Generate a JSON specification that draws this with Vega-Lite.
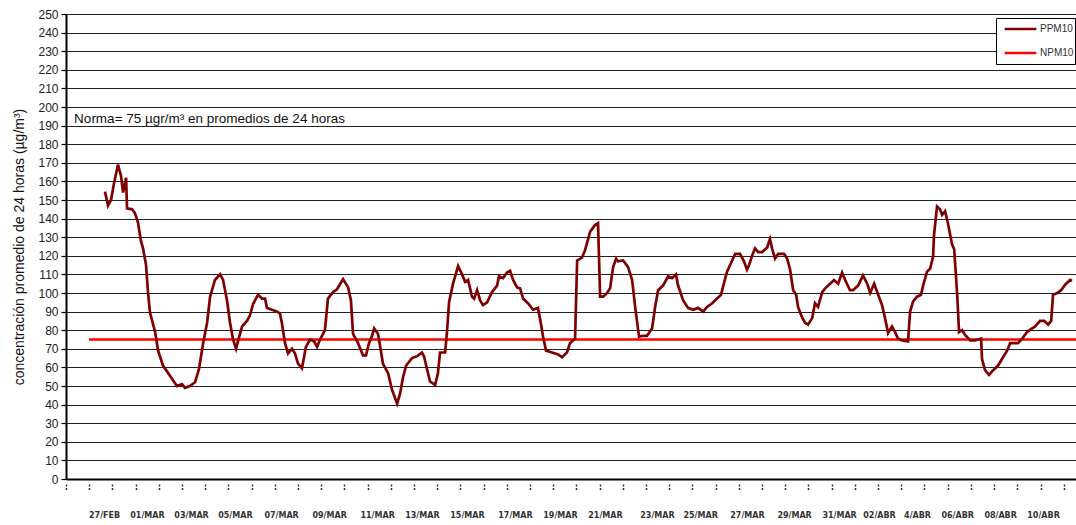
{
  "$schema": "https://vega.github.io/schema/vega-lite/v6.json",
  "width": 1010,
  "height": 465,
  "autosize": {"type": "none"},
  "padding": {"left": 66, "top": 14, "right": 0, "bottom": 46},
  "background": "white",
  "config": {
    "font": "Liberation Sans",
    "view": {"stroke": null}
  },
  "datasets": {
    "series": [
      {"serie": "NPM10", "dia": 0.99, "valor": 75},
      {"serie": "NPM10", "dia": 43.53, "valor": 75},
      {"serie": "PPM10", "dia": 1.68, "valor": 154.5},
      {"serie": "PPM10", "dia": 1.81, "valor": 147},
      {"serie": "PPM10", "dia": 1.94, "valor": 150},
      {"serie": "PPM10", "dia": 2.07, "valor": 159},
      {"serie": "PPM10", "dia": 2.24, "valor": 169},
      {"serie": "PPM10", "dia": 2.37, "valor": 163},
      {"serie": "PPM10", "dia": 2.46, "valor": 154},
      {"serie": "PPM10", "dia": 2.59, "valor": 162},
      {"serie": "PPM10", "dia": 2.63, "valor": 145.5},
      {"serie": "PPM10", "dia": 2.85, "valor": 145},
      {"serie": "PPM10", "dia": 2.97, "valor": 143},
      {"serie": "PPM10", "dia": 3.10, "valor": 138},
      {"serie": "PPM10", "dia": 3.23, "valor": 128},
      {"serie": "PPM10", "dia": 3.32, "valor": 124},
      {"serie": "PPM10", "dia": 3.45, "valor": 115},
      {"serie": "PPM10", "dia": 3.53, "valor": 101},
      {"serie": "PPM10", "dia": 3.62, "valor": 89.5},
      {"serie": "PPM10", "dia": 3.84, "valor": 79},
      {"serie": "PPM10", "dia": 3.97, "valor": 69},
      {"serie": "PPM10", "dia": 4.18, "valor": 61},
      {"serie": "PPM10", "dia": 4.48, "valor": 55.5},
      {"serie": "PPM10", "dia": 4.78, "valor": 50},
      {"serie": "PPM10", "dia": 5.00, "valor": 51},
      {"serie": "PPM10", "dia": 5.13, "valor": 49},
      {"serie": "PPM10", "dia": 5.34, "valor": 50},
      {"serie": "PPM10", "dia": 5.56, "valor": 52},
      {"serie": "PPM10", "dia": 5.73, "valor": 59},
      {"serie": "PPM10", "dia": 5.91, "valor": 73},
      {"serie": "PPM10", "dia": 6.08, "valor": 84},
      {"serie": "PPM10", "dia": 6.21, "valor": 98},
      {"serie": "PPM10", "dia": 6.42, "valor": 107},
      {"serie": "PPM10", "dia": 6.64, "valor": 110},
      {"serie": "PPM10", "dia": 6.77, "valor": 107},
      {"serie": "PPM10", "dia": 6.94, "valor": 96},
      {"serie": "PPM10", "dia": 7.07, "valor": 84},
      {"serie": "PPM10", "dia": 7.20, "valor": 75},
      {"serie": "PPM10", "dia": 7.33, "valor": 70},
      {"serie": "PPM10", "dia": 7.41, "valor": 74},
      {"serie": "PPM10", "dia": 7.59, "valor": 82},
      {"serie": "PPM10", "dia": 7.80, "valor": 85},
      {"serie": "PPM10", "dia": 7.93, "valor": 88},
      {"serie": "PPM10", "dia": 8.06, "valor": 94},
      {"serie": "PPM10", "dia": 8.23, "valor": 98},
      {"serie": "PPM10", "dia": 8.28, "valor": 99},
      {"serie": "PPM10", "dia": 8.45, "valor": 97},
      {"serie": "PPM10", "dia": 8.58, "valor": 97},
      {"serie": "PPM10", "dia": 8.66, "valor": 92},
      {"serie": "PPM10", "dia": 8.88, "valor": 91},
      {"serie": "PPM10", "dia": 9.10, "valor": 90},
      {"serie": "PPM10", "dia": 9.22, "valor": 89},
      {"serie": "PPM10", "dia": 9.31, "valor": 83.5},
      {"serie": "PPM10", "dia": 9.44, "valor": 73},
      {"serie": "PPM10", "dia": 9.57, "valor": 67.5},
      {"serie": "PPM10", "dia": 9.74, "valor": 70},
      {"serie": "PPM10", "dia": 9.87, "valor": 67.5},
      {"serie": "PPM10", "dia": 10.00, "valor": 62},
      {"serie": "PPM10", "dia": 10.17, "valor": 59.5},
      {"serie": "PPM10", "dia": 10.34, "valor": 71},
      {"serie": "PPM10", "dia": 10.52, "valor": 75},
      {"serie": "PPM10", "dia": 10.69, "valor": 74},
      {"serie": "PPM10", "dia": 10.82, "valor": 71},
      {"serie": "PPM10", "dia": 10.95, "valor": 75},
      {"serie": "PPM10", "dia": 11.16, "valor": 80},
      {"serie": "PPM10", "dia": 11.29, "valor": 97},
      {"serie": "PPM10", "dia": 11.51, "valor": 100.5},
      {"serie": "PPM10", "dia": 11.68, "valor": 102},
      {"serie": "PPM10", "dia": 11.94, "valor": 107.5},
      {"serie": "PPM10", "dia": 12.16, "valor": 103},
      {"serie": "PPM10", "dia": 12.28, "valor": 96},
      {"serie": "PPM10", "dia": 12.37, "valor": 78},
      {"serie": "PPM10", "dia": 12.46, "valor": 76},
      {"serie": "PPM10", "dia": 12.59, "valor": 73},
      {"serie": "PPM10", "dia": 12.80, "valor": 66.5},
      {"serie": "PPM10", "dia": 12.93, "valor": 66.5},
      {"serie": "PPM10", "dia": 13.06, "valor": 73},
      {"serie": "PPM10", "dia": 13.19, "valor": 77},
      {"serie": "PPM10", "dia": 13.28, "valor": 81},
      {"serie": "PPM10", "dia": 13.45, "valor": 78},
      {"serie": "PPM10", "dia": 13.53, "valor": 72},
      {"serie": "PPM10", "dia": 13.66, "valor": 62},
      {"serie": "PPM10", "dia": 13.88, "valor": 57},
      {"serie": "PPM10", "dia": 14.05, "valor": 48},
      {"serie": "PPM10", "dia": 14.27, "valor": 40.5},
      {"serie": "PPM10", "dia": 14.40, "valor": 46},
      {"serie": "PPM10", "dia": 14.53, "valor": 55},
      {"serie": "PPM10", "dia": 14.66, "valor": 61},
      {"serie": "PPM10", "dia": 14.91, "valor": 65},
      {"serie": "PPM10", "dia": 15.13, "valor": 66},
      {"serie": "PPM10", "dia": 15.34, "valor": 68},
      {"serie": "PPM10", "dia": 15.43, "valor": 66},
      {"serie": "PPM10", "dia": 15.56, "valor": 59},
      {"serie": "PPM10", "dia": 15.69, "valor": 52.5},
      {"serie": "PPM10", "dia": 15.91, "valor": 50.5},
      {"serie": "PPM10", "dia": 16.03, "valor": 57},
      {"serie": "PPM10", "dia": 16.12, "valor": 68},
      {"serie": "PPM10", "dia": 16.34, "valor": 68},
      {"serie": "PPM10", "dia": 16.42, "valor": 79},
      {"serie": "PPM10", "dia": 16.51, "valor": 95},
      {"serie": "PPM10", "dia": 16.68, "valor": 105},
      {"serie": "PPM10", "dia": 16.90, "valor": 114.5},
      {"serie": "PPM10", "dia": 17.07, "valor": 110},
      {"serie": "PPM10", "dia": 17.20, "valor": 106},
      {"serie": "PPM10", "dia": 17.33, "valor": 107},
      {"serie": "PPM10", "dia": 17.50, "valor": 98},
      {"serie": "PPM10", "dia": 17.59, "valor": 97},
      {"serie": "PPM10", "dia": 17.72, "valor": 101.5},
      {"serie": "PPM10", "dia": 17.85, "valor": 96},
      {"serie": "PPM10", "dia": 17.97, "valor": 93.5},
      {"serie": "PPM10", "dia": 18.15, "valor": 95},
      {"serie": "PPM10", "dia": 18.36, "valor": 100.5},
      {"serie": "PPM10", "dia": 18.58, "valor": 104},
      {"serie": "PPM10", "dia": 18.66, "valor": 109},
      {"serie": "PPM10", "dia": 18.84, "valor": 108},
      {"serie": "PPM10", "dia": 19.01, "valor": 111},
      {"serie": "PPM10", "dia": 19.14, "valor": 112},
      {"serie": "PPM10", "dia": 19.27, "valor": 107},
      {"serie": "PPM10", "dia": 19.44, "valor": 103},
      {"serie": "PPM10", "dia": 19.57, "valor": 102.5},
      {"serie": "PPM10", "dia": 19.70, "valor": 97},
      {"serie": "PPM10", "dia": 19.91, "valor": 94.5},
      {"serie": "PPM10", "dia": 20.13, "valor": 91},
      {"serie": "PPM10", "dia": 20.34, "valor": 92},
      {"serie": "PPM10", "dia": 20.47, "valor": 83.5},
      {"serie": "PPM10", "dia": 20.56, "valor": 76.5},
      {"serie": "PPM10", "dia": 20.69, "valor": 69},
      {"serie": "PPM10", "dia": 20.95, "valor": 68},
      {"serie": "PPM10", "dia": 21.21, "valor": 67},
      {"serie": "PPM10", "dia": 21.38, "valor": 65.5},
      {"serie": "PPM10", "dia": 21.59, "valor": 68},
      {"serie": "PPM10", "dia": 21.72, "valor": 73},
      {"serie": "PPM10", "dia": 21.94, "valor": 75.5},
      {"serie": "PPM10", "dia": 22.03, "valor": 117.5},
      {"serie": "PPM10", "dia": 22.24, "valor": 119},
      {"serie": "PPM10", "dia": 22.37, "valor": 123},
      {"serie": "PPM10", "dia": 22.59, "valor": 133},
      {"serie": "PPM10", "dia": 22.80, "valor": 136.5},
      {"serie": "PPM10", "dia": 22.93, "valor": 137.5},
      {"serie": "PPM10", "dia": 23.02, "valor": 98},
      {"serie": "PPM10", "dia": 23.15, "valor": 98},
      {"serie": "PPM10", "dia": 23.32, "valor": 100},
      {"serie": "PPM10", "dia": 23.45, "valor": 102.5},
      {"serie": "PPM10", "dia": 23.58, "valor": 114},
      {"serie": "PPM10", "dia": 23.71, "valor": 118.5},
      {"serie": "PPM10", "dia": 23.79, "valor": 117},
      {"serie": "PPM10", "dia": 24.01, "valor": 117.5},
      {"serie": "PPM10", "dia": 24.22, "valor": 114},
      {"serie": "PPM10", "dia": 24.40, "valor": 107},
      {"serie": "PPM10", "dia": 24.53, "valor": 92.5},
      {"serie": "PPM10", "dia": 24.66, "valor": 80},
      {"serie": "PPM10", "dia": 24.70, "valor": 76.5},
      {"serie": "PPM10", "dia": 24.87, "valor": 77},
      {"serie": "PPM10", "dia": 25.04, "valor": 77},
      {"serie": "PPM10", "dia": 25.26, "valor": 81},
      {"serie": "PPM10", "dia": 25.39, "valor": 92.5},
      {"serie": "PPM10", "dia": 25.52, "valor": 101.5},
      {"serie": "PPM10", "dia": 25.73, "valor": 104},
      {"serie": "PPM10", "dia": 25.95, "valor": 109},
      {"serie": "PPM10", "dia": 26.12, "valor": 108},
      {"serie": "PPM10", "dia": 26.29, "valor": 110},
      {"serie": "PPM10", "dia": 26.38, "valor": 104},
      {"serie": "PPM10", "dia": 26.60, "valor": 96},
      {"serie": "PPM10", "dia": 26.81, "valor": 92},
      {"serie": "PPM10", "dia": 27.03, "valor": 91},
      {"serie": "PPM10", "dia": 27.24, "valor": 92},
      {"serie": "PPM10", "dia": 27.46, "valor": 90},
      {"serie": "PPM10", "dia": 27.63, "valor": 92.5},
      {"serie": "PPM10", "dia": 27.85, "valor": 94.5},
      {"serie": "PPM10", "dia": 28.06, "valor": 97},
      {"serie": "PPM10", "dia": 28.23, "valor": 99},
      {"serie": "PPM10", "dia": 28.32, "valor": 103.5},
      {"serie": "PPM10", "dia": 28.49, "valor": 111.5},
      {"serie": "PPM10", "dia": 28.71, "valor": 117.5},
      {"serie": "PPM10", "dia": 28.84, "valor": 121},
      {"serie": "PPM10", "dia": 29.05, "valor": 121},
      {"serie": "PPM10", "dia": 29.22, "valor": 117},
      {"serie": "PPM10", "dia": 29.35, "valor": 112.5},
      {"serie": "PPM10", "dia": 29.44, "valor": 115},
      {"serie": "PPM10", "dia": 29.57, "valor": 120},
      {"serie": "PPM10", "dia": 29.70, "valor": 124},
      {"serie": "PPM10", "dia": 29.83, "valor": 122},
      {"serie": "PPM10", "dia": 30.00, "valor": 122},
      {"serie": "PPM10", "dia": 30.22, "valor": 124.5},
      {"serie": "PPM10", "dia": 30.34, "valor": 129},
      {"serie": "PPM10", "dia": 30.43, "valor": 124},
      {"serie": "PPM10", "dia": 30.56, "valor": 118.5},
      {"serie": "PPM10", "dia": 30.69, "valor": 121},
      {"serie": "PPM10", "dia": 30.86, "valor": 121},
      {"serie": "PPM10", "dia": 30.95, "valor": 121},
      {"serie": "PPM10", "dia": 31.08, "valor": 118.5},
      {"serie": "PPM10", "dia": 31.21, "valor": 112.5},
      {"serie": "PPM10", "dia": 31.34, "valor": 101.5},
      {"serie": "PPM10", "dia": 31.47, "valor": 99},
      {"serie": "PPM10", "dia": 31.55, "valor": 92.5},
      {"serie": "PPM10", "dia": 31.72, "valor": 87},
      {"serie": "PPM10", "dia": 31.85, "valor": 84},
      {"serie": "PPM10", "dia": 31.98, "valor": 83},
      {"serie": "PPM10", "dia": 32.16, "valor": 86.5},
      {"serie": "PPM10", "dia": 32.28, "valor": 94.5},
      {"serie": "PPM10", "dia": 32.41, "valor": 92.5},
      {"serie": "PPM10", "dia": 32.59, "valor": 100.5},
      {"serie": "PPM10", "dia": 32.72, "valor": 102.5},
      {"serie": "PPM10", "dia": 32.93, "valor": 105},
      {"serie": "PPM10", "dia": 33.10, "valor": 107},
      {"serie": "PPM10", "dia": 33.28, "valor": 105},
      {"serie": "PPM10", "dia": 33.45, "valor": 111},
      {"serie": "PPM10", "dia": 33.58, "valor": 107},
      {"serie": "PPM10", "dia": 33.79, "valor": 101.5},
      {"serie": "PPM10", "dia": 33.92, "valor": 101.5},
      {"serie": "PPM10", "dia": 34.14, "valor": 104},
      {"serie": "PPM10", "dia": 34.35, "valor": 109.5},
      {"serie": "PPM10", "dia": 34.53, "valor": 105},
      {"serie": "PPM10", "dia": 34.66, "valor": 100},
      {"serie": "PPM10", "dia": 34.83, "valor": 105},
      {"serie": "PPM10", "dia": 34.96, "valor": 100.5},
      {"serie": "PPM10", "dia": 35.17, "valor": 93.5},
      {"serie": "PPM10", "dia": 35.30, "valor": 86.5},
      {"serie": "PPM10", "dia": 35.43, "valor": 78.5},
      {"serie": "PPM10", "dia": 35.60, "valor": 82},
      {"serie": "PPM10", "dia": 35.73, "valor": 79},
      {"serie": "PPM10", "dia": 35.86, "valor": 75.5},
      {"serie": "PPM10", "dia": 36.03, "valor": 74.5},
      {"serie": "PPM10", "dia": 36.29, "valor": 74},
      {"serie": "PPM10", "dia": 36.38, "valor": 90},
      {"serie": "PPM10", "dia": 36.51, "valor": 95.5},
      {"serie": "PPM10", "dia": 36.68, "valor": 98},
      {"serie": "PPM10", "dia": 36.85, "valor": 99},
      {"serie": "PPM10", "dia": 36.94, "valor": 104},
      {"serie": "PPM10", "dia": 37.11, "valor": 111.5},
      {"serie": "PPM10", "dia": 37.24, "valor": 113},
      {"serie": "PPM10", "dia": 37.37, "valor": 119.5},
      {"serie": "PPM10", "dia": 37.41, "valor": 131},
      {"serie": "PPM10", "dia": 37.54, "valor": 146.5},
      {"serie": "PPM10", "dia": 37.67, "valor": 145},
      {"serie": "PPM10", "dia": 37.76, "valor": 142},
      {"serie": "PPM10", "dia": 37.89, "valor": 144},
      {"serie": "PPM10", "dia": 38.02, "valor": 137},
      {"serie": "PPM10", "dia": 38.19, "valor": 126},
      {"serie": "PPM10", "dia": 38.28, "valor": 123.5},
      {"serie": "PPM10", "dia": 38.41, "valor": 99},
      {"serie": "PPM10", "dia": 38.49, "valor": 79},
      {"serie": "PPM10", "dia": 38.62, "valor": 80},
      {"serie": "PPM10", "dia": 38.75, "valor": 77.5},
      {"serie": "PPM10", "dia": 38.97, "valor": 74.5},
      {"serie": "PPM10", "dia": 39.18, "valor": 74.5},
      {"serie": "PPM10", "dia": 39.44, "valor": 75.5},
      {"serie": "PPM10", "dia": 39.48, "valor": 64.5},
      {"serie": "PPM10", "dia": 39.61, "valor": 58.5},
      {"serie": "PPM10", "dia": 39.78, "valor": 56},
      {"serie": "PPM10", "dia": 39.96, "valor": 58.5},
      {"serie": "PPM10", "dia": 40.17, "valor": 61},
      {"serie": "PPM10", "dia": 40.34, "valor": 64.5},
      {"serie": "PPM10", "dia": 40.56, "valor": 69},
      {"serie": "PPM10", "dia": 40.69, "valor": 73},
      {"serie": "PPM10", "dia": 40.82, "valor": 73},
      {"serie": "PPM10", "dia": 41.03, "valor": 73},
      {"serie": "PPM10", "dia": 41.21, "valor": 75.5},
      {"serie": "PPM10", "dia": 41.42, "valor": 79},
      {"serie": "PPM10", "dia": 41.64, "valor": 81},
      {"serie": "PPM10", "dia": 41.77, "valor": 82},
      {"serie": "PPM10", "dia": 41.98, "valor": 85},
      {"serie": "PPM10", "dia": 42.16, "valor": 85},
      {"serie": "PPM10", "dia": 42.33, "valor": 83},
      {"serie": "PPM10", "dia": 42.46, "valor": 85},
      {"serie": "PPM10", "dia": 42.54, "valor": 99},
      {"serie": "PPM10", "dia": 42.72, "valor": 100},
      {"serie": "PPM10", "dia": 42.89, "valor": 101.5},
      {"serie": "PPM10", "dia": 43.06, "valor": 104.5},
      {"serie": "PPM10", "dia": 43.28, "valor": 107},
      {"serie": "PPM10", "dia": 43.36, "valor": 106.5}
    ],
    "nota": [
      {"dia": 0.35, "valor": 193.5, "texto": "Norma= 75 µgr/m³ en promedios de 24 horas"}
    ]
  },
  "resolve": {"axis": {"x": "independent", "y": "independent"}},
  "layer": [
    {
      "data": {"name": "series"},
      "mark": {"type": "line", "strokeWidth": 2.7, "interpolate": "linear"},
      "encoding": {
        "x": {
          "field": "dia", "type": "quantitative",
          "scale": {"domain": [0, 43.53], "zero": false, "nice": false},
          "axis": {
            "orient": "bottom",
            "values": [0,1,2,3,4,5,6,7,8,9,10,11,12,13,14,15,16,17,18,19,20,21,22,23,24,25,26,27,28,29,30,31,32,33,34,35,36,37,38,39,40,41,42,43],
            "labels": false, "domain": false, "grid": false,
            "ticks": true, "tickSize": 6, "offset": 5,
            "tickColor": "#333", "tickWidth": 1.5, "tickDash": [2, 1.5],
            "title": null
          }
        },
        "y": {
          "field": "valor", "type": "quantitative",
          "scale": {"domain": [0, 250], "nice": false, "zero": true},
          "axis": {
            "orient": "left",
            "values": [0,10,20,30,40,50,60,70,80,90,100,110,120,130,140,150,160,170,180,190,200,210,220,230,240,250],
            "grid": true, "gridColor": "#222", "gridWidth": 1.2,
            "domain": true, "domainColor": "#000", "domainWidth": 2,
            "ticks": true, "tickSize": 5, "tickColor": "#000", "tickWidth": 1.2,
            "labelFont": "Liberation Sans", "labelFontSize": 12, "labelColor": "#222", "labelPadding": 3,
            "title": "concentración promedio de 24 horas (µg/m³)",
            "titleFont": "Liberation Sans", "titleFontSize": 14, "titleFontWeight": "normal", "titleColor": "#111",
            "titlePadding": 11
          }
        },
        "color": {
          "field": "serie", "type": "nominal",
          "scale": {"domain": ["PPM10", "NPM10"], "range": ["#7f0000", "#ff0000"]},
          "legend": {
            "title": null, "orient": "none", "legendX": 930, "legendY": 4,
            "fillColor": "white", "strokeColor": "#000", "padding": 1,
            "symbolType": "stroke", "symbolSize": 1000, "symbolStrokeWidth": 2.5,
            "symbolOffset": 6, "clipHeight": 20, "rowPadding": 4,
            "labelFont": "Liberation Sans", "labelFontSize": 10, "labelColor": "#333", "labelOffset": 2
          }
        }
      }
    },
    {
      "data": {"name": "nota"},
      "mark": {"type": "text", "align": "left", "baseline": "middle", "fontSize": 13.5, "font": "Liberation Sans", "color": "#111"},
      "encoding": {
        "x": {
          "field": "dia", "type": "quantitative",
          "scale": {"domain": [0, 43.53], "zero": false, "nice": false},
          "axis": {
            "orient": "bottom",
            "values": [1.64, 3.49, 5.39, 7.28, 9.27, 11.34, 13.41, 15.34, 17.28, 19.35, 21.29, 23.23, 25.47, 27.33, 29.35, 31.38, 33.32, 35.04, 36.68, 38.41, 40.26, 42.11],
            "labelExpr": "['27/FEB','01/MAR','03/MAR','05/MAR','07/MAR','09/MAR','11/MAR','13/MAR','15/MAR','17/MAR','19/MAR','21/MAR','23/MAR','25/MAR','27/MAR','29/MAR','31/MAR','02/ABR','4/ABR','06/ABR','08/ABR','10/ABR'][indexof([1.64, 3.49, 5.39, 7.28, 9.27, 11.34, 13.41, 15.34, 17.28, 19.35, 21.29, 23.23, 25.47, 27.33, 29.35, 31.38, 33.32, 35.04, 36.68, 38.41, 40.26, 42.11], datum.value)]",
            "ticks": false, "tickSize": 0, "grid": false,
            "domain": true, "domainColor": "#000", "domainWidth": 2,
            "labelFont": "DejaVu Sans", "labelFontSize": 8, "labelFontWeight": "bold", "labelColor": "#333",
            "labelPadding": 32, "labelOverlap": false, "labelFlush": false,
            "title": null
          }
        },
        "y": {
          "field": "valor", "type": "quantitative",
          "scale": {"domain": [0, 250], "nice": false, "zero": true},
          "axis": null
        },
        "text": {"field": "texto", "type": "nominal"}
      }
    }
  ]
}
